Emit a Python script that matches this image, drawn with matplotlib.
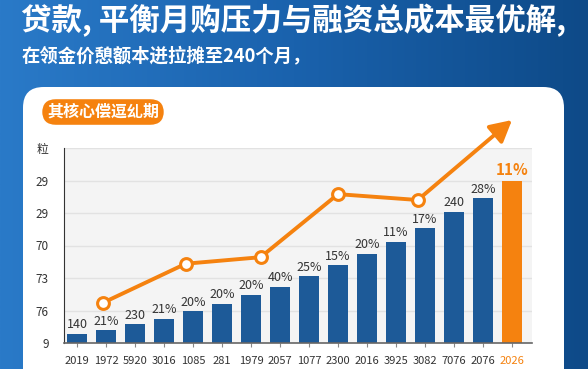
import matplotlib.pyplot as plt
import numpy as np
from matplotlib.patches import FancyBboxPatch
from matplotlib.colors import LinearSegmentedColormap

plt.rcParams['font.family'] = ['Noto Sans CJK SC', 'DejaVu Sans']

title = '贷款, 平衡月购压力与融资总成本最优解,'
subtitle = '在领金价憩额本迸拉摊至240个月，'
badge = '其核心偿逗乣期'

x_labels = ['2019', '1972', '5920', '3016', '1085', '281', '1979', '2057',
            '1077', '2300', '2016', '3925', '3082', '7076', '2076', '2026']
bar_values = [0.28, 0.39, 0.58, 0.75, 0.98, 1.21, 1.48, 1.73,
              2.05, 2.39, 2.75, 3.11, 3.53, 4.03, 4.45, 4.99]
bar_text = ['140', '21%', '230', '21%', '20%', '20%', '20%', '40%',
            '25%', '15%', '20%', '11%', '17%', '240', '28%', '11%']
y_ticks = [0, 1, 2, 3, 4, 5, 6]
y_labels = ['9', '76', '73', '70', '29', '29', '粒']

# trend line (x in bar-index units)
line_x = [0.9, 3.75, 6.33, 9.0, 11.75]
line_y = [1.24, 2.44, 2.64, 4.58, 4.40]
arrow_end = (15.0, 6.86)

blue = '#1d5a98'
orange = '#f5820f'

fig = plt.figure(figsize=(5.88, 3.69), dpi=100)

# gradient background
bg = fig.add_axes([0, 0, 1, 1])
grad = np.linspace(0, 1, 256)[None, :]
cmap = LinearSegmentedColormap.from_list('bg', ['#2a7ac8', '#1a62ad', '#0e4a88'])
bg.imshow(grad, aspect='auto', cmap=cmap, extent=[0, 1, 0, 1])
bg.set_xlim(0, 1)
bg.set_ylim(0, 1)
bg.axis('off')

# white panel
panel = FancyBboxPatch((23 / 588, -0.1), (564 - 23) / 588, (369 - 87) / 369 + 0.1,
                       boxstyle='round,pad=0,rounding_size=0.035',
                       transform=bg.transAxes, facecolor='white', edgecolor='none',
                       mutation_aspect=588 / 369)
bg.add_patch(panel)

fig.text(21 / 588, 1 - 21 / 369, title, color='white', fontsize=22, fontweight='bold',
         va='center', ha='left')
fig.text(22 / 588, 1 - 56 / 369, subtitle, color='white', fontsize=13.2, fontweight='bold',
         va='center', ha='left')

fig.text(103 / 588, 1 - 112 / 369, badge, color='white', fontsize=11.5, fontweight='bold',
         va='center', ha='center',
         bbox=dict(boxstyle='round,pad=0.3,rounding_size=0.85', facecolor=orange,
                   edgecolor='none'))

ax = fig.add_axes([64 / 588, 26 / 369, (532 - 64) / 588, (343 - 148) / 369])
ax.set_facecolor('#f4f4f4')
xs = np.arange(len(bar_values))
colors = [blue] * (len(bar_values) - 1) + [orange]
ax.bar(xs, bar_values, width=0.66, color=colors, zorder=2)
for i, (v, t) in enumerate(zip(bar_values, bar_text)):
    if i == len(bar_values) - 1:
        ax.text(i, v + 0.1, t, ha='center', va='bottom', fontsize=11,
                fontweight='bold', color=orange, zorder=4)
    else:
        ax.text(i, v + 0.08, t, ha='center', va='bottom', fontsize=9,
                color='#333333', zorder=4)

ax.plot(line_x, line_y, color=orange, lw=2.8, zorder=3, clip_on=False)
ax.annotate('', xy=arrow_end, xytext=(line_x[-1], line_y[-1]),
            arrowprops=dict(arrowstyle='-|>,head_length=1.3,head_width=0.7',
                            color=orange, lw=2.8, shrinkA=0, shrinkB=0),
            annotation_clip=False, zorder=3)
ax.plot(line_x, line_y, 'o', ms=8.5, mfc='white', mec=orange, mew=2.2,
        zorder=5, clip_on=False)

ax.set_xlim(-0.45, 15.69)
ax.set_ylim(0, 6)
ax.set_yticks(y_ticks)
ax.set_yticklabels(y_labels)
ax.set_xticks(xs)
ax.set_xticklabels(x_labels)
ax.tick_params(axis='y', length=0, pad=11, labelsize=8.5, labelcolor='#333333')
ax.tick_params(axis='x', length=3, color='#888888', pad=6, labelsize=8,
               labelcolor='#333333')
ax.get_xticklabels()[-1].set_color(orange)
ax.grid(axis='y', color='#e2e2e2', lw=1, zorder=0)
ax.set_axisbelow(True)
for s in ['top', 'right']:
    ax.spines[s].set_visible(False)
ax.spines['left'].set_color('#333333')
ax.spines['bottom'].set_color('#666666')
ax.spines['bottom'].set_linewidth(1.2)

fig.savefig('out.png', dpi=100)
